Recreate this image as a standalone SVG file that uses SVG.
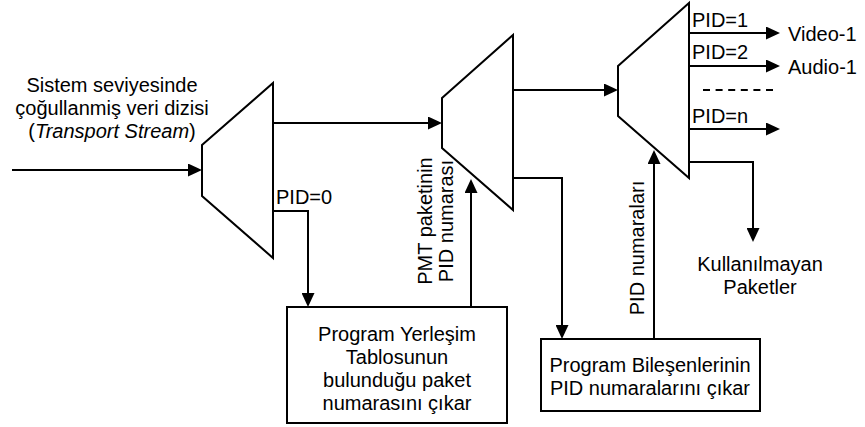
<svg xmlns="http://www.w3.org/2000/svg" width="865" height="427" viewBox="0 0 865 427">
<defs>
<style>
.shape{fill:#fff;stroke:#000;stroke-width:2;stroke-linejoin:miter}
.wire{fill:none;stroke:#000;stroke-width:2}
.dash{fill:none;stroke:#000;stroke-width:2;stroke-dasharray:7 5.6}
text{font-family:"Liberation Sans",Arial,sans-serif;font-size:20px;fill:#000}
.c{text-anchor:middle}
</style>
<marker id="ah" viewBox="0 0 14 13" refX="10" refY="6.5" markerWidth="14" markerHeight="13" markerUnits="userSpaceOnUse" orient="auto">
<path d="M0,0 L14,6.5 L0,13 z" fill="#000"/>
</marker>
</defs>
<rect width="865" height="427" fill="#fff"/>

<g id="connectors">
<path class="wire" d="M12,170 H198" marker-end="url(#ah)"/>
<path class="wire" d="M273,123 H438" marker-end="url(#ah)"/>
<path class="wire" d="M273,211 H308 V303" marker-end="url(#ah)"/>
<path class="wire" d="M471,307 V183" marker-end="url(#ah)"/>
<path class="wire" d="M513,90 H614" marker-end="url(#ah)"/>
<path class="wire" d="M513,178 H562 V335" marker-end="url(#ah)"/>
<path class="wire" d="M654,339 V154" marker-end="url(#ah)"/>
<path class="wire" d="M689,33 H776" marker-end="url(#ah)"/>
<path class="wire" d="M689,66 H776" marker-end="url(#ah)"/>
<path class="wire" d="M689,129 H776" marker-end="url(#ah)"/>
<path class="dash" d="M703,90 H773"/>
<path class="wire" d="M689,162 H753 V238" marker-end="url(#ah)"/>
</g>

<g id="input-label">
<text class="c" x="112" y="92">Sistem seviyesinde</text>
<text class="c" x="112" y="115">çoğullanmiş veri dizisi</text>
<text class="c" x="112" y="138">(<tspan font-style="italic">Transport Stream</tspan>)</text>
</g>

<g id="mux1">
<polygon class="shape" points="202,145 273,83 273,258 202,196"/>
<text x="276" y="204">PID=0</text>
</g>

<g id="mux2">
<polygon class="shape" points="442,98 513,35 513,210 442,148"/>
</g>

<g id="pmt-label">
<text class="c" transform="translate(432,221) rotate(-90)">PMT paketinin</text>
<text class="c" transform="translate(453,221) rotate(-90)">PID numarası</text>
</g>

<g id="mux3">
<polygon class="shape" points="618,66 689,3 689,178 618,116"/>
<text x="692" y="27">PID=1</text>
<text x="692" y="59">PID=2</text>
<text x="692" y="123">PID=n</text>
</g>

<g id="outputs">
<text x="788" y="41">Video-1</text>
<text x="788" y="74">Audio-1</text>
<text class="c" x="760" y="271">Kullanılmayan</text>
<text class="c" x="760" y="294">Paketler</text>
</g>

<g id="pid-label">
<text class="c" transform="translate(644,248) rotate(-90)">PID numaraları</text>
</g>

<g id="box1">
<rect class="shape" x="287" y="307" width="220" height="116"/>
<text class="c" x="397" y="341">Program Yerleşim</text>
<text class="c" x="397" y="364">Tablosunun</text>
<text class="c" x="397" y="387">bulunduğu paket</text>
<text class="c" x="397" y="410">numarasını çıkar</text>
</g>

<g id="box2">
<rect class="shape" x="541" y="339" width="219" height="72"/>
<text class="c" x="650" y="372">Program Bileşenlerinin</text>
<text class="c" x="650" y="395">PID numaralarını çıkar</text>
</g>
</svg>
